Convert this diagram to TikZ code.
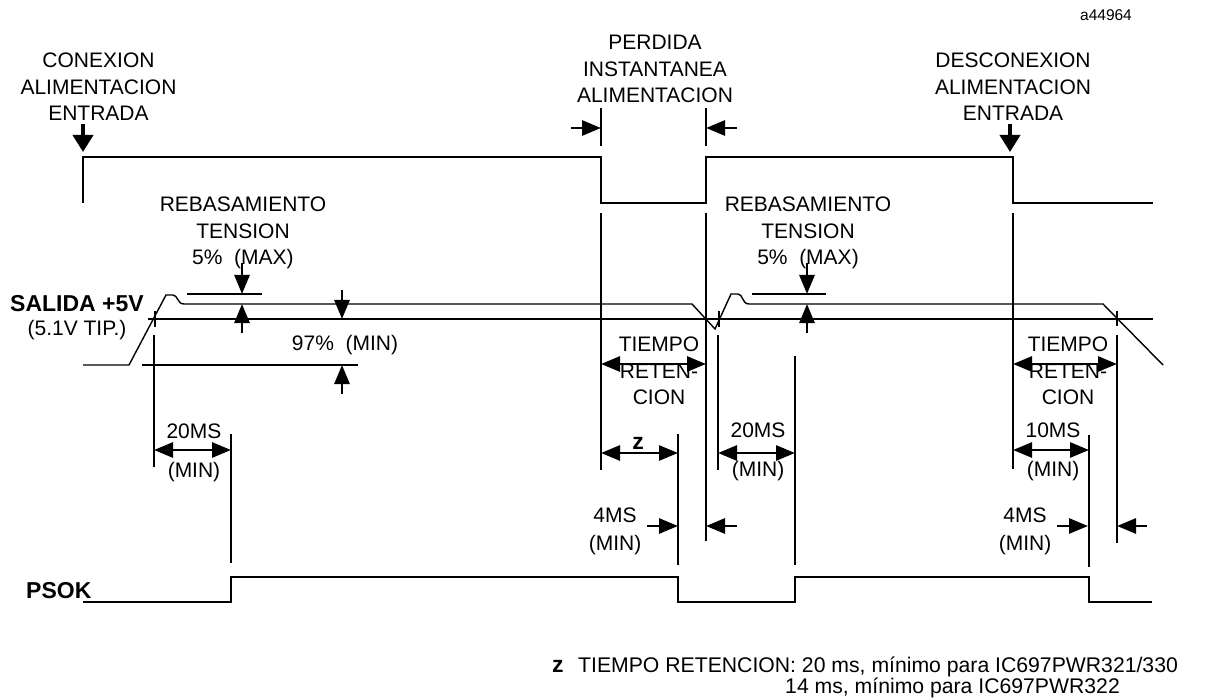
\documentclass[tikz,border=0pt]{standalone}
\usepackage{fontspec}
\setmainfont{Liberation Sans}
\usetikzlibrary{arrows.meta,positioning}

\begin{document}
\begin{tikzpicture}[x=1pt, y=-1pt,
    lbl/.style={font=\fontsize{21}{26.5}\selectfont, align=center, inner sep=0pt, anchor=north},
    sig/.style={line width=1.4pt},
    guide/.style={line width=1.3pt},
    heavy/.style={line width=2.4pt},
    dimarrow/.style={line width=2.8pt, {Triangle[length=19pt,width=15pt]}-{Triangle[length=19pt,width=15pt]}},
    tickarrow/.style={line width=2.8pt, -{Triangle[length=19pt,width=15pt]}},
    bigarrow/.style={line width=3.8pt, -{Triangle[length=17pt,width=20pt]}}]

    \useasboundingbox (0,0) rectangle (1206,700);

    % labels
    \node[font=\fontsize{15.5}{18}\selectfont, inner sep=0pt, anchor=base] (figno) at (1106,21) {a44964};
    \node[lbl] (conex) at (98.5,53) {CONEXION\\ALIMENTACION\\ENTRADA};
    \node[lbl] (perdida) at (655,35) {PERDIDA\\INSTANTANEA\\ALIMENTACION};
    \node[lbl] (desconex) at (1013,53) {DESCONEXION\\ALIMENTACION\\ENTRADA};
    \node[lbl] (rebas1) at (243,197) {REBASAMIENTO\\TENSION\\5\%\ \ (MAX)};
    \node[lbl] (rebas2) at (808,197) {REBASAMIENTO\\TENSION\\5\%\ \ (MAX)};
    \node[font=\fontsize{23}{26}\selectfont\bfseries, inner sep=0pt, anchor=base west] (salida) at (10,312) {SALIDA +5V};
    \node[font=\fontsize{21}{26}\selectfont, inner sep=0pt, anchor=base] (tipico) at (77,335) {(5.1V TIP.)};
    \node[lbl] (pct97) at (345,335) {97\%\ \ (MIN)};
    \node[lbl] (tret1) at (659,337) {TIEMPO\\RETEN-\\CION};
    \node[lbl] (tret2) at (1068,337) {TIEMPO\\RETEN-\\CION};
    \node[lbl] (ms20a) at (194,424) {20MS\\[12.5pt](MIN)};
    \node[lbl] (ms20b) at (758,423) {20MS\\[12.5pt](MIN)};
    \node[lbl] (ms10) at (1053,423) {10MS\\[12.5pt](MIN)};
    \node[font=\fontsize{23}{26}\selectfont\bfseries, inner sep=0pt, anchor=base] (zlbl) at (638,449) {z};
    \node[lbl] (ms4a) at (615,508) {4MS\\[1.5pt](MIN)};
    \node[lbl] (ms4b) at (1025,508) {4MS\\[1.5pt](MIN)};
    \node[font=\fontsize{23}{26}\selectfont\bfseries, inner sep=0pt, anchor=base west] (psok) at (26,598) {PSOK};
    \node[font=\fontsize{23}{20}\selectfont\bfseries, inner sep=0pt, anchor=base west] (zmark) at (552,672) {z};
    \node[font=\fontsize{21.2}{20}\selectfont, inner sep=0pt, anchor=base west] (nota1) at (578,672) {TIEMPO RETENCION: 20 ms, mínimo para IC697PWR321/330};
    \node[font=\fontsize{21.2}{20}\selectfont, inner sep=0pt, anchor=base west] (nota2) at (785,693) {14 ms, mínimo para IC697PWR322};

    % alimentacion de entrada
    \draw[sig] (83,203) -- (83,157) -- (601,157) -- (601,203) -- (706,203) -- (706,157)
        -- (1013,157) -- (1013,203) -- (1153,203);
    \draw[bigarrow] (83,124) -- (83,152);
    \draw[bigarrow] (1010,124) -- (1010,152);
    \draw[heavy] (601,108) -- (601,146);
    \draw[heavy] (706,108) -- (706,146);
    \draw[tickarrow] (571,128) -- (601,128);
    \draw[tickarrow] (737,128) -- (706,128);

    % salida +5V
    \draw[sig] (83,365) -- (129,365) -- (166,295) -- (173,295)
        .. controls (178,295) and (177,304) .. (184,304) -- (692,304) -- (715,329)
        -- (731,294) -- (738,294) .. controls (743,294) and (742,304) .. (749,304)
        -- (1103,304) -- (1163,365);
    \draw[guide] (150,319) -- (1090,319);
    \draw[heavy] (1090,319) -- (1153,319);
    \draw[guide] (142,365) -- (358,365);
    \draw[heavy] (148,319) -- (162,319);
    \draw[line width=1.8pt] (155,311) -- (155,327);
    \draw[heavy] (712,319) -- (726,319);
    \draw[line width=1.8pt] (719,311) -- (719,327);
    \draw[line width=1.8pt] (1117,311) -- (1117,326);

    % rebasamiento y 97%
    \draw[heavy] (187,294) -- (262,294);
    \draw[tickarrow] (242,263) -- (242,294);
    \draw[tickarrow] (242,333) -- (242,304);
    \draw[heavy] (752,294) -- (826,294);
    \draw[tickarrow] (807,263) -- (807,294);
    \draw[tickarrow] (807,333) -- (807,304);
    \draw[tickarrow] (342,290) -- (342,319);
    \draw[tickarrow] (342,394) -- (342,365);

    % lineas de referencia
    \draw[guide] (601,213) -- (601,470);
    \draw[guide] (706,213) -- (706,541);
    \draw[guide] (1013,213) -- (1013,469);
    \draw[guide] (154,335) -- (154,467);
    \draw[guide] (231,434) -- (231,563);
    \draw[guide] (678,434) -- (678,565);
    \draw[guide] (718,335) -- (718,470);
    \draw[guide] (795,356) -- (795,565);
    \draw[heavy] (1089,435) -- (1089,567);
    \draw[guide] (1117,335) -- (1117,543);

    % cotas
    \draw[dimarrow] (154,450) -- (231,450);
    \draw[dimarrow] (601,364) -- (706,364);
    \draw[dimarrow] (601,453) -- (678,453);
    \draw[dimarrow] (718,453) -- (795,453);
    \draw[dimarrow] (1013,364) -- (1117,364);
    \draw[dimarrow] (1013,450) -- (1089,450);
    \draw[tickarrow] (647,526) -- (678,526);
    \draw[tickarrow] (737,526) -- (706,526);
    \draw[tickarrow] (1057,526) -- (1088,526);
    \draw[tickarrow] (1147,526) -- (1117,526);

    % PSOK
    \draw[line width=1.6pt] (83,602) -- (231,602) -- (231,577) -- (678,577) -- (678,602)
        -- (795,602) -- (795,577) -- (1089,577) -- (1089,602) -- (1152,602);
\end{tikzpicture}
\end{document}
